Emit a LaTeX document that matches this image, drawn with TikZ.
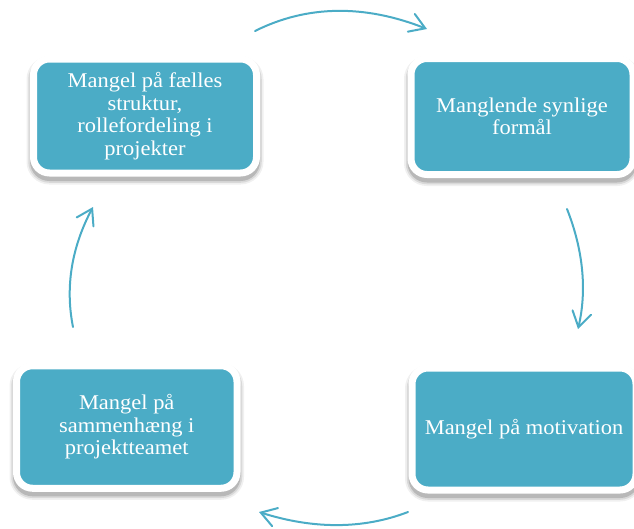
\documentclass[tikz,border=0pt]{standalone}
\usepackage{fontspec}
\setmainfont{Liberation Serif}[FakeStretch=1.07]
\usetikzlibrary{arrows.meta}
\definecolor{tealfive}{RGB}{75,172,198}
\begin{document}
\begin{tikzpicture}[x=1pt,y=-1pt,
  cyclebox/.style={rounded corners=16pt, fill=tealfive, draw=white, line width=7pt,
    text=white, align=center, inner sep=0pt,
    font=\fontsize{21}{22.5}\selectfont,
    preaction={draw=black!6, fill=black!6, line width=14pt, transform canvas={yshift=-4.5pt}},
    preaction={draw=black!15, fill=black!15, line width=10.5pt, transform canvas={yshift=-4.5pt}},
    preaction={draw=black!28, fill=black!28, line width=7pt, transform canvas={yshift=-4.5pt}}},
  cyclearrow/.style={draw=tealfive, line width=2pt, line cap=round,
    -{Straight Barb[length=15pt,width=19pt,line cap=round]}}]
\useasboundingbox (0,0) rectangle (634,528);

\node[cyclebox, minimum width=223pt, minimum height=114pt] (struktur) at (145,116)
  {Mangel på fælles\\struktur,\\rollefordeling i\\projekter};
\node[cyclebox, minimum width=222pt, minimum height=116pt] (formaal) at (522,116.5)
  {Manglende synlige\\formål};
\node[cyclebox, minimum width=224pt, minimum height=122pt] (motivation) at (524,429)
  {Mangel på motivation};
\node[cyclebox, minimum width=220.5pt, minimum height=122.5pt] (sammenhaeng) at (126.75,427)
  {Mangel på\\sammenhæng i\\projektteamet};

\coordinate (a1s) at (255,31);
\coordinate (a1e) at (427,29);
\coordinate (a2s) at (567,209);
\coordinate (a2e) at (578,329);
\coordinate (a3s) at (408,512);
\coordinate (a3e) at (259,512);
\coordinate (a4s) at (73,327);
\coordinate (a4e) at (93,207);

\draw[cyclearrow] (a1s) .. controls (307,5) and (364.3,4.3) .. (a1e);
\draw[cyclearrow] (a2s) .. controls (583.3,250.3) and (587,290.3) .. (a2e);
\draw[cyclearrow] (a3s) .. controls (363,529.3) and (313.3,529.3) .. (a3e);
\draw[cyclearrow] (a4s) .. controls (65,287) and (71.7,247) .. (a4e);
\end{tikzpicture}
\end{document}
